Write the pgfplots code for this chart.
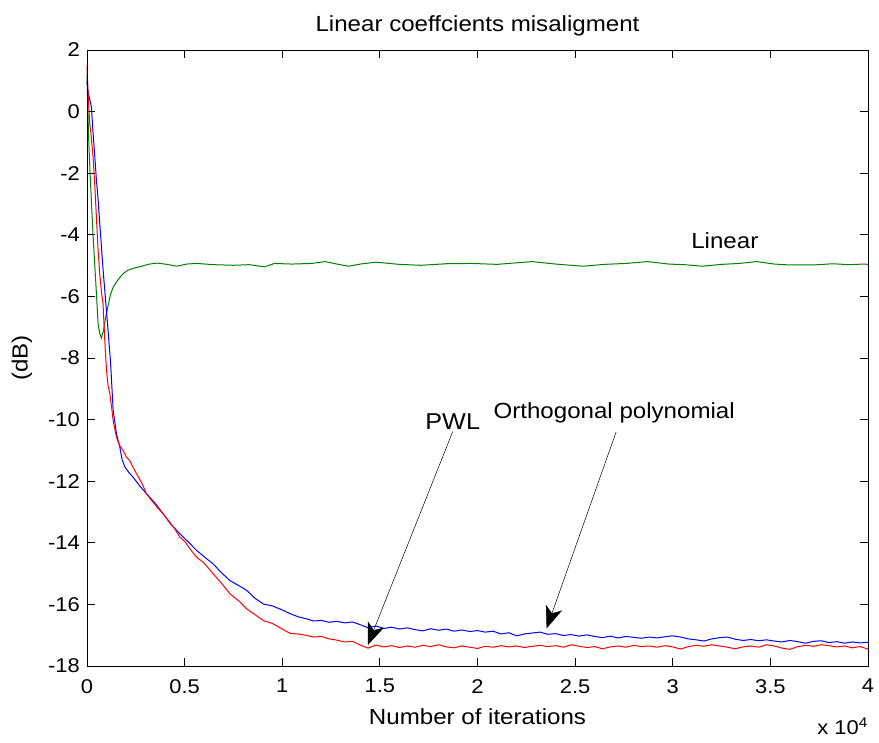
\documentclass[border=0pt]{standalone}
\usepackage{pgfplots}
\pgfplotsset{compat=1.18}
\usepackage{fontspec}
\setmainfont{Liberation Sans}[FakeStretch=1.1]
\usetikzlibrary{arrows.meta}

\pgfplotstableread{
x y
0 1.5
0.003 1.0
0.008 0.3
0.014 -0.38
0.02 -0.7
0.031 -1.46
0.04 -2.4
0.048 -3.41
0.056 -4.4
0.065 -5.26
0.075 -5.9
0.082 -6.23
0.091 -7.42
0.1 -8.4
0.108 -8.9
0.117 -9.16
0.126 -9.6
0.134 -10.03
0.151 -10.57
0.168 -10.85
0.185 -11.0
0.2 -11.2
0.219 -11.33
0.236 -11.55
0.254 -11.76
0.28 -12.05
0.305 -12.41
0.33 -12.62
0.36 -12.85
0.39 -13.06
0.42 -13.3
0.45 -13.55
0.476 -13.82
0.5 -13.95
0.53 -14.22
0.562 -14.47
0.6 -14.66
0.647 -15.01
0.69 -15.32
0.733 -15.66
0.78 -15.9
0.819 -16.15
0.86 -16.33
0.904 -16.53
0.95 -16.62
1.00 -16.80
1.04 -16.94
1.08 -16.96
1.12 -17.00
1.16 -17.06
1.20 -17.04
1.24 -17.12
1.28 -17.16
1.32 -17.22
1.36 -17.20
1.40 -17.32
1.44 -17.42
1.48 -17.32
1.52 -17.38
1.56 -17.34
1.60 -17.40
1.64 -17.35
1.68 -17.39
1.72 -17.33
1.76 -17.37
1.80 -17.31
1.84 -17.38
1.88 -17.41
1.92 -17.35
1.96 -17.39
2.00 -17.43
2.04 -17.36
2.08 -17.39
2.12 -17.34
2.16 -17.38
2.20 -17.35
2.24 -17.40
2.28 -17.36
2.32 -17.33
2.36 -17.37
2.40 -17.34
2.44 -17.39
2.48 -17.31
2.52 -17.36
2.56 -17.40
2.60 -17.37
2.64 -17.44
2.68 -17.38
2.72 -17.35
2.76 -17.39
2.80 -17.33
2.84 -17.37
2.88 -17.35
2.92 -17.39
2.96 -17.34
3.00 -17.38
3.04 -17.45
3.08 -17.37
3.12 -17.33
3.16 -17.36
3.20 -17.31
3.24 -17.35
3.28 -17.39
3.32 -17.44
3.36 -17.38
3.40 -17.35
3.44 -17.39
3.48 -17.31
3.52 -17.35
3.56 -17.42
3.60 -17.46
3.64 -17.37
3.68 -17.33
3.72 -17.36
3.76 -17.31
3.80 -17.34
3.84 -17.38
3.88 -17.35
3.92 -17.41
3.96 -17.37
4.00 -17.45
}\pwl

\pgfplotstableread{
x y
0 1.0
0.004 0.7
0.01 0.5
0.0225 0.16
0.03 -0.6
0.04 -1.46
0.048 -2.2
0.057 -2.87
0.065 -3.6
0.074 -4.39
0.082 -5.1
0.091 -5.8
0.1 -6.5
0.108 -7.1
0.115 -7.7
0.12 -8.07
0.128 -9.0
0.134 -9.7
0.151 -10.46
0.168 -10.89
0.18 -11.3
0.194 -11.54
0.215 -11.72
0.236 -11.87
0.27 -12.15
0.305 -12.41
0.35 -12.72
0.39 -13.06
0.43 -13.4
0.476 -13.71
0.52 -13.98
0.562 -14.25
0.6 -14.45
0.647 -14.69
0.69 -14.98
0.733 -15.23
0.78 -15.4
0.819 -15.55
0.86 -15.8
0.904 -15.99
0.95 -16.05
1.00 -16.18
1.04 -16.30
1.08 -16.40
1.12 -16.46
1.16 -16.54
1.20 -16.52
1.24 -16.58
1.28 -16.55
1.32 -16.60
1.36 -16.57
1.40 -16.66
1.44 -16.76
1.48 -16.70
1.52 -16.78
1.56 -16.74
1.60 -16.80
1.64 -16.76
1.68 -16.82
1.72 -16.86
1.76 -16.79
1.80 -16.84
1.84 -16.80
1.88 -16.87
1.92 -16.83
1.96 -16.88
2.00 -16.85
2.04 -16.90
2.08 -16.87
2.12 -16.96
2.16 -16.92
2.20 -17.02
2.24 -16.96
2.28 -16.93
2.32 -16.90
2.36 -16.97
2.40 -16.95
2.44 -17.01
2.48 -16.98
2.52 -17.03
2.56 -16.99
2.60 -17.04
2.64 -17.08
2.68 -17.03
2.72 -17.09
2.76 -17.04
2.80 -17.07
2.84 -17.10
2.88 -17.06
2.92 -17.09
2.96 -17.05
3.00 -17.02
3.04 -17.06
3.08 -17.12
3.12 -17.15
3.16 -17.19
3.20 -17.12
3.24 -17.08
3.28 -17.06
3.32 -17.13
3.36 -17.17
3.40 -17.14
3.44 -17.18
3.48 -17.15
3.52 -17.19
3.56 -17.22
3.60 -17.17
3.64 -17.21
3.68 -17.26
3.72 -17.20
3.76 -17.18
3.80 -17.24
3.84 -17.21
3.88 -17.26
3.92 -17.22
3.96 -17.25
4.00 -17.23
}\ortho

\pgfplotstableread{
x y
0 1.2
0.004 0.2
0.008 -0.8
0.015 -1.9
0.0225 -2.9
0.03 -3.9
0.04 -5.0
0.05 -6.1
0.057 -6.9
0.065 -7.2
0.074 -7.35
0.085 -7.1
0.095 -6.7
0.108 -6.3
0.12 -5.95
0.134 -5.7
0.16 -5.45
0.185 -5.26
0.21 -5.15
0.236 -5.09
0.28 -5.02
0.32 -4.95
0.36 -4.92
0.41 -4.96
0.46 -5.02
0.51 -4.95
0.56 -4.93
0.65 -4.97
0.75 -4.99
0.83 -4.97
0.91 -5.04
0.96 -4.93
1.05 -4.95
1.15 -4.93
1.22 -4.87
1.28 -4.95
1.34 -5.02
1.41 -4.94
1.48 -4.89
1.6 -4.96
1.71 -4.99
1.84 -4.94
1.97 -4.93
2.1 -4.96
2.18 -4.92
2.28 -4.87
2.4 -4.95
2.54 -5.02
2.65 -4.96
2.76 -4.93
2.87 -4.87
2.98 -4.95
3.06 -4.97
3.15 -5.02
3.25 -4.96
3.34 -4.93
3.43 -4.87
3.52 -4.95
3.6 -4.98
3.72 -4.98
3.82 -4.94
3.9 -4.97
3.98 -4.95
4.0 -4.96
}\linear

\begin{document}
\begin{tikzpicture}
\useasboundingbox (-87bp,-77bp) rectangle (792bp,666bp);
\begin{axis}[
  scale only axis,
  width=781bp, height=616bp,
  xmin=0, xmax=4, ymin=-18, ymax=2,
  xtick={0,0.5,1,1.5,2,2.5,3,3.5,4},
  xticklabels={0,0.5,1,1.5,2,2.5,3,3.5,4},
  ytick={-18,-16,-14,-12,-10,-8,-6,-4,-2,0,2},
  yticklabels={-18,-16,-14,-12,-10,-8,-6,-4,-2,0,2},
  tick align=inside,
  tick pos=both,
  major tick length=8bp,
  axis line style={black, line width=0.9bp},
  major tick style={black, line width=0.9bp},
  xticklabel style={font=\fontsize{20}{24}\selectfont, inner sep=0pt, yshift=-13bp},
  yticklabel style={font=\fontsize{20}{24}\selectfont, inner sep=0pt, xshift=-7bp},
  clip=false,
]
\addplot[color=green!50!black, line width=1bp] table[x=x,y=y] {\linear};
\addplot[color=blue, line width=1bp] table[x=x,y=y] {\ortho};
\addplot[color=red, line width=1bp] table[x=x,y=y] {\pwl};

\draw[black, line width=0.5bp, -{Stealth[length=22bp,width=17bp,inset=6bp]}]
  (axis cs:1.873,-10.39) -- (axis cs:1.438,-17.32);
\draw[black, line width=0.5bp, -{Stealth[length=22bp,width=17bp,inset=6bp]}]
  (axis cs:2.71,-10.40) -- (axis cs:2.354,-16.78);

\node[anchor=west, inner sep=0pt, font=\fontsize{22}{26}\selectfont] at (axis cs:3.094,-4.2) {Linear};
\node[inner sep=0pt, font=\fontsize{23}{27}\selectfont] at (axis cs:1.873,-10.06) {PWL};
\node[inner sep=0pt, font=\fontsize{22}{26}\selectfont] at (axis cs:2.70,-9.77) {Orthogonal polynomial};

\node[anchor=base, inner sep=0pt, font=\fontsize{22}{26}\selectfont] at (axis description cs:0.5,1.0297) {Linear coeffcients misaligment};
\node[anchor=base, inner sep=0pt, font=\fontsize{22}{26}\selectfont] at (axis description cs:0.5,-0.0942) {Number of iterations};
\node[rotate=90, inner sep=0pt, font=\fontsize{22}{26}\selectfont] at (axis description cs:-0.0832,0.5) {(dB)};
\node[anchor=base east, inner sep=0pt, font=\fontsize{20}{24}\selectfont] at (axis description cs:1,-0.112) {x 10\textsuperscript{4}};
\end{axis}
\draw[black, line width=0.9bp] (0,0) rectangle (781bp,616bp);
\end{tikzpicture}
\end{document}
